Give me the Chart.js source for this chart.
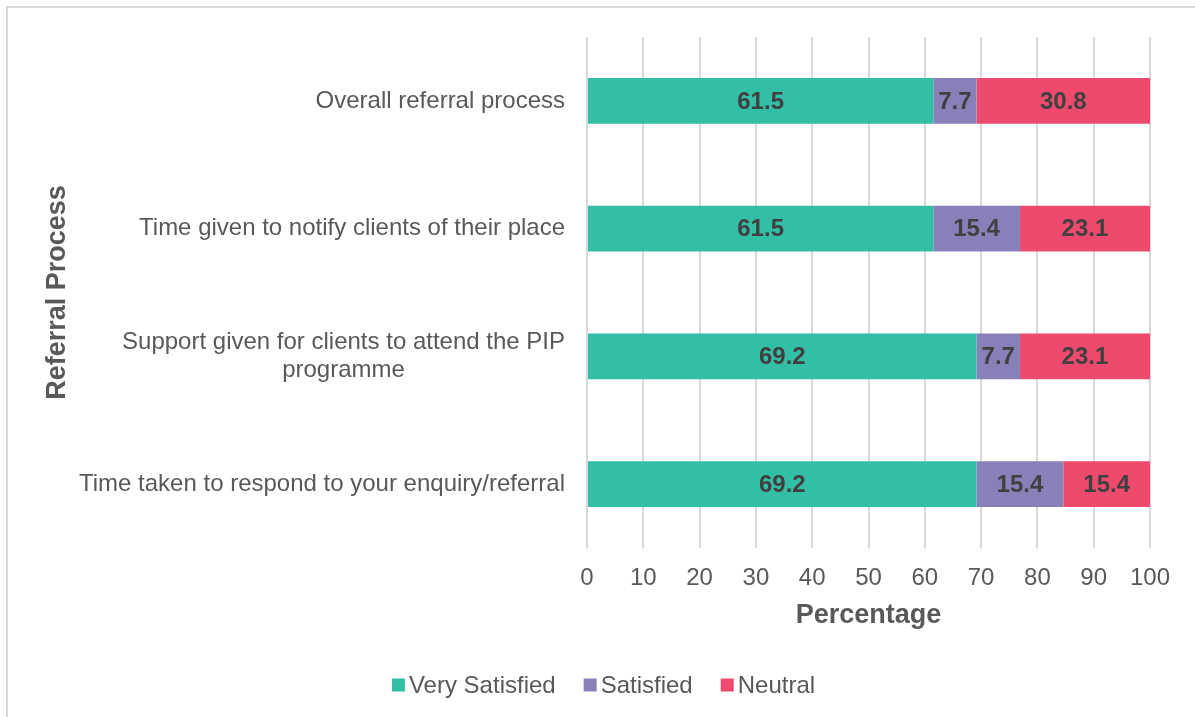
<!DOCTYPE html>
<html>
<head>
<meta charset="utf-8">
<script src="https://cdn.jsdelivr.net/npm/chart.js@4"></script>
<style>
  html, body { margin: 0; padding: 0; background: #fff; overflow: hidden; }
  #frame {
    position: absolute; left: 6px; top: 6px;
    width: 1300px; height: 800px;
    border: 2px solid #d9d9d9; box-sizing: border-box;
  }
  #wrap { position: absolute; left: 0; top: 0; width: 1195px; height: 717px; }
</style>
</head>
<body>
<div id="frame"></div>
<div id="wrap"><canvas id="referralChart" width="1195" height="717"></canvas></div>
<script>
// Referral process satisfaction (percent)
const categories = [
    ['Overall referral process'],
    ['Time given to notify clients of their place'],
    ['Support given for clients to attend the PIP', 'programme'],
    ['Time taken to respond to your enquiry/referral']
];
const verySatisfied = [61.5, 61.5, 69.2, 69.2];
const satisfied = [7.7, 15.4, 7.7, 15.4];
const neutral = [30.8, 23.1, 23.1, 15.4];
const xTicks = [0, 10, 20, 30, 40, 50, 60, 70, 80, 90, 100];

const FONT = '"Liberation Sans", Arial, sans-serif';
const GREY = '#595959';

// writes the value in the middle of each bar segment
const segmentLabels = {
    id: 'segmentLabels',
    afterDatasetsDraw(chart) {
        const ctx = chart.ctx;
        ctx.save();
        ctx.font = 'bold 24px ' + FONT;
        ctx.fillStyle = '#404040';
        ctx.textAlign = 'center';
        ctx.textBaseline = 'middle';
        chart.data.datasets.forEach((ds, i) => {
            chart.getDatasetMeta(i).data.forEach((bar, j) => {
                const p = bar.getCenterPoint();
                ctx.fillText(ds.data[j].toFixed(1), p.x, p.y + 1);
            });
        });
        ctx.restore();
    }
};

// category names, right aligned to the axis, wrapped lines centred on each other
const categoryLabels = {
    id: 'categoryLabels',
    afterDraw(chart) {
        const ctx = chart.ctx;
        const y = chart.scales.y;
        const right = chart.chartArea.left - 22;
        ctx.save();
        ctx.font = '24px ' + FONT;
        ctx.fillStyle = GREY;
        ctx.textAlign = 'center';
        ctx.textBaseline = 'middle';
        categories.forEach((lines, i) => {
            const w = Math.max(...lines.map(l => ctx.measureText(l).width));
            const cy = y.getPixelForValue(i);
            const lh = 28.5;
            const top = cy - (lines.length - 1) * lh / 2;
            lines.forEach((l, k) => ctx.fillText(l, right - w / 2, top + k * lh));
        });
        ctx.restore();
    }
};

// legend drawn by hand so the box/text gap matches the original
const bottomLegend = {
    id: 'bottomLegend',
    afterDraw(chart) {
        const ctx = chart.ctx;
        const box = 13, gap = 4, spacing = 28;
        ctx.save();
        ctx.font = '24px ' + FONT;
        ctx.textBaseline = 'middle';
        ctx.textAlign = 'left';
        const items = chart.data.datasets.map(ds => ({
            text: ds.label, color: ds.backgroundColor, w: ctx.measureText(ds.label).width
        }));
        const total = items.reduce((s, it) => s + box + gap + it.w, 0) + spacing * (items.length - 1);
        let x = chart.width / 2 + 6 - total / 2;
        const cy = chart.height - 32;
        items.forEach(it => {
            ctx.fillStyle = it.color;
            ctx.fillRect(x, cy - box / 2, box, box);
            ctx.fillStyle = GREY;
            ctx.fillText(it.text, x + box + gap, cy + 1);
            x += box + gap + it.w + spacing;
        });
        ctx.restore();
    }
};

const ctx = document.getElementById('referralChart').getContext('2d');
new Chart(ctx, {
    type: 'bar',
    data: {
        labels: categories.map(c => c.join(' ')),
        datasets: [
            { label: 'Very Satisfied', data: verySatisfied, backgroundColor: '#33bfa6' },
            { label: 'Satisfied', data: satisfied, backgroundColor: '#8780b9' },
            { label: 'Neutral', data: neutral, backgroundColor: '#ee4a6e' }
        ]
    },
    options: {
        indexAxis: 'y',
        responsive: false,
        animation: false,
        layout: { padding: { left: 37, right: 45, top: 37, bottom: 81 } },
        datasets: { bar: { categoryPercentage: 1, barPercentage: 0.36 } },
        scales: {
            x: {
                stacked: true,
                min: 0,
                max: 100,
                afterBuildTicks: scale => { scale.ticks = xTicks.map(v => ({ value: v })); },
                afterFit: scale => { scale.height = 88; },
                grid: { color: '#d9d9d9', lineWidth: 2, drawTicks: false },
                border: { display: false },
                ticks: { color: GREY, font: { family: FONT, size: 24 }, padding: 16 },
                title: {
                    display: true,
                    text: 'Percentage',
                    color: GREY,
                    font: { family: FONT, size: 27, weight: 'bold' },
                    padding: { top: 10, bottom: 4 }
                }
            },
            y: {
                stacked: true,
                afterFit: scale => { scale.width = 550; },
                grid: { display: false },
                border: { display: false },
                ticks: { display: false },
                title: {
                    display: true,
                    text: 'Referral Process',
                    color: GREY,
                    font: { family: FONT, size: 27, weight: 'bold' },
                    padding: { top: 4, bottom: 4 }
                }
            }
        },
        plugins: {
            legend: { display: false },
            tooltip: { enabled: false }
        }
    },
    plugins: [segmentLabels, categoryLabels, bottomLegend]
});
</script>
</body>
</html>
